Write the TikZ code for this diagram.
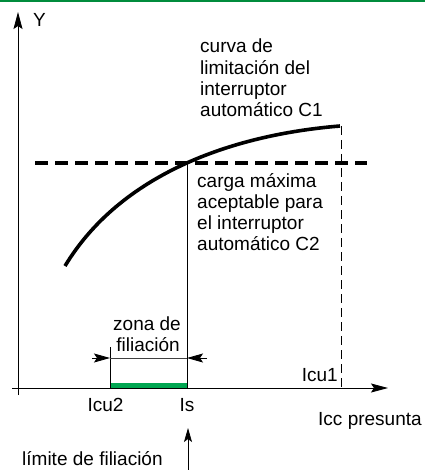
\documentclass[tikz,border=0pt]{standalone}
\usepackage{fontspec}
\setmainfont{Liberation Sans}
\usetikzlibrary{arrows.meta}
\definecolor{topgreen}{RGB}{0,140,60}
\definecolor{bargreen}{RGB}{0,166,81}
\begin{document}
\begin{tikzpicture}[x=1pt,y=-1pt,
  lbl/.style={font=\fontsize{19}{21.5}\selectfont, inner sep=0pt, anchor=base west},
  lblc/.style={lbl, anchor=base},
  lble/.style={lbl, anchor=base east},
  thin line/.style={line width=0.8pt},
  axisarrow/.style={thin line, -{Stealth[length=17pt,width=9pt,inset=3pt]}},
  dimarrow/.style={thin line, -{Stealth[length=16pt,width=9pt,inset=3pt]}},
  uparrow/.style={thin line, -{Stealth[length=14pt,width=8pt,inset=3pt]}},
  curveline/.style={line width=3.6pt},
  loadline/.style={line width=4pt, dash pattern=on 13pt off 7pt},
  guide/.style={line width=0.7pt, dash pattern=on 9pt off 5pt},
  greenbar/.style={bargreen, line width=5pt}]
\useasboundingbox (0,0) rectangle (425,470);

% top green rule
\coordinate (gl) at (0,1);
\coordinate (gr) at (425,1);
\draw[topgreen, line width=2pt] (gl) -- (gr);

% axes
\coordinate (yb) at (18,395);
\coordinate (yt) at (18,12);
\coordinate (xl) at (12,388);
\coordinate (xr) at (388,388);
\draw[axisarrow] (yb) -- (yt);
\draw[axisarrow] (xl) -- (xr);

% key coordinates
\coordinate (c0) at (65,266);
\coordinate (c1) at (340,126);
\coordinate (ist) at (187,163);
\coordinate (isb) at (187,388);
\coordinate (i2t) at (110,347);
\coordinate (i2b) at (110,388);
\coordinate (i1t) at (341,126);
\coordinate (i1b) at (341,388);
\coordinate (hl) at (35,163);
\coordinate (hr) at (367,163);
\coordinate (dl0) at (92,358);
\coordinate (dl1) at (110,358);
\coordinate (dr1) at (187,358);
\coordinate (dr0) at (207,358);
\coordinate (gb0) at (110,385.5);
\coordinate (gb1) at (187,385.5);
\coordinate (ua0) at (188,470);
\coordinate (ua1) at (188,428);

% green filiation zone
\draw[greenbar] (gb0) -- (gb1);

% verticals
\draw[thin line] (ist) -- (isb);
\draw[thin line] (i2t) -- (i2b);
\draw[guide] (i1t) -- (i1b);

% dimension
\draw[line width=0.8pt, black!75] (dl1) -- (dr1);
\draw[dimarrow] (dl0) -- (dl1);
\draw[dimarrow] (dr0) -- (dr1);

% curves
\draw[loadline] (hl) -- (hr);
\draw[curveline] (c0) .. controls (120,175) and (230,135) .. (c1);

% arrow to Is
\draw[uparrow] (ua0) -- (ua1);

% labels
\node[lbl] (ylab) at (33,27) {Y};
\node[lbl] (cv1) at (200,53) {curva de};
\node[lbl] (cv2) at (200,75) {limitación del};
\node[lbl] (cv3) at (200,96) {interruptor};
\node[lbl] (cv4) at (200,117) {automático C1};
\node[lbl] (cg1) at (197,187) {carga máxima};
\node[lbl] (cg2) at (197,208) {aceptable para};
\node[lbl] (cg3) at (197,229) {el interruptor};
\node[lbl] (cg4) at (197,250) {automático C2};
\node[lblc] (zn1) at (147,330) {zona de};
\node[lblc] (zn2) at (148,351) {filiación};
\node[lblc] (icu2) at (105.5,411) {Icu2};
\node[lblc] (is) at (187,411) {Is};
\node[lble] (icu1) at (338,381) {Icu1};
\node[lbl] (icc) at (318,425) {Icc presunta};
\node[lbl] (lim) at (22,465) {límite de filiación};
\end{tikzpicture}
\end{document}
